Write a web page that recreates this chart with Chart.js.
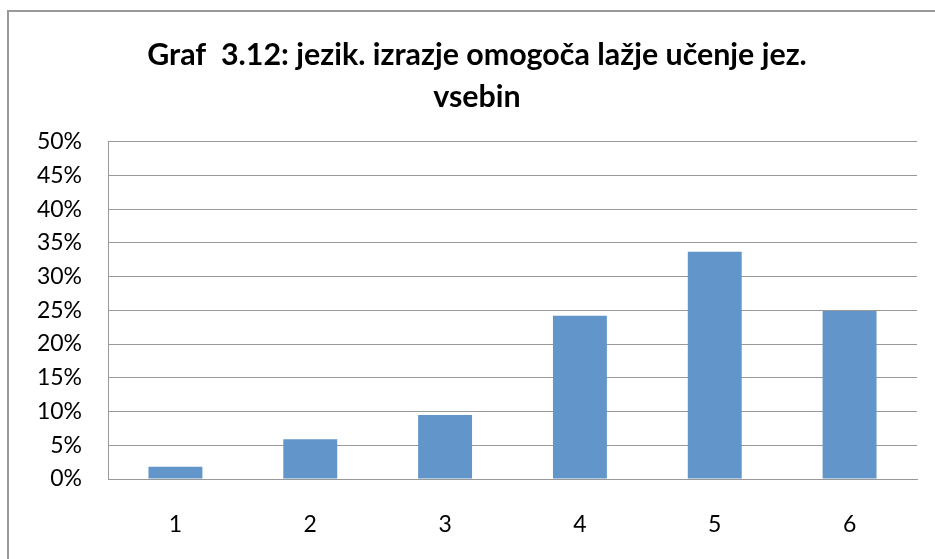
<!DOCTYPE html>
<html>
<head>
<meta charset="utf-8">
<script src="https://cdn.jsdelivr.net/npm/chart.js@4.4.1/dist/chart.umd.min.js"></script>
<style>
  html, body { margin: 0; padding: 0; background: #fff; }
  #wrap { width: 935px; height: 559px; position: relative; }
</style>
</head>
<body>
<div id="wrap"><canvas id="c" width="935" height="559"></canvas></div>
<script>
const categories = ['1', '2', '3', '4', '5', '6'];
const values = [1.8, 5.9, 9.5, 24.2, 33.7, 24.9];
const titleLines = ['Graf  3.12: jezik. izrazje omogoča lažje učenje jez.', 'vsebin'];
const yMax = 50;
const yStep = 5;

const frame = {
  id: 'frame',
  afterDraw(chart) {
    const ctx = chart.ctx;
    ctx.save();
    ctx.strokeStyle = '#999999';
    ctx.lineWidth = 2;
    ctx.beginPath();
    ctx.moveTo(8, 559);
    ctx.lineTo(8, 11);
    ctx.lineTo(935, 11);
    ctx.stroke();
    ctx.restore();
  }
};

new Chart(document.getElementById('c'), {
  type: 'bar',
  data: {
    labels: categories,
    datasets: [{
      data: values,
      backgroundColor: '#6296CA',
      borderWidth: 0,
      barPercentage: 0.4,
      categoryPercentage: 1.0
    }]
  },
  plugins: [frame],
  options: {
    responsive: false,
    animation: false,
    layout: { padding: { left: 37, right: 18, top: 0, bottom: 21 } },
    plugins: {
      legend: { display: false },
      tooltip: { enabled: false },
      title: {
        display: true,
        text: titleLines,
        color: '#000',
        font: { family: 'Lato', size: 30.4, weight: 'bold', lineHeight: 1.36 },
        padding: { top: 35, bottom: 24 }
      }
    },
    scales: {
      x: {
        afterFit(s) { s.height = 59; },
        grid: { display: false, drawTicks: false },
        border: { display: true, color: '#999999', width: 1 },
        ticks: { color: '#000', font: { family: 'Lato', size: 23 }, padding: 32 }
      },
      y: {
        min: 0, max: yMax,
        afterFit(s) { s.width = 71; },
        grid: { color: '#999999', lineWidth: 1, drawTicks: false },
        border: { display: true, color: '#999999', width: 1 },
        ticks: {
          stepSize: yStep,
          color: '#000',
          font: { family: 'Lato', size: 23 },
          padding: 26,
          callback: v => v + '%'
        }
      }
    }
  }
});
</script>
</body>
</html>
